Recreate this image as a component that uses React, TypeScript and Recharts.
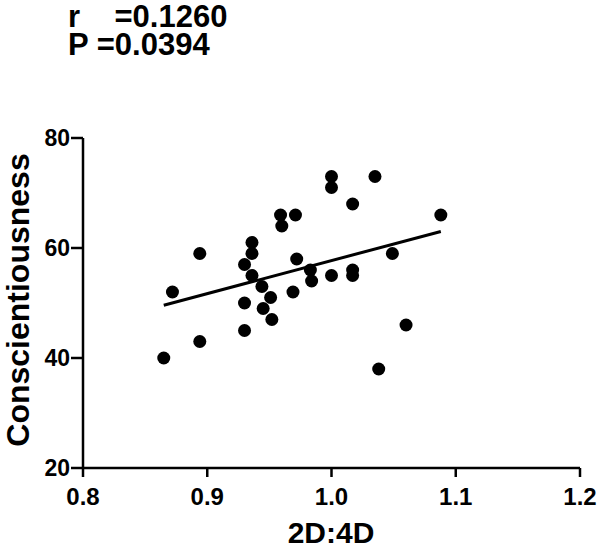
import React from 'react';
import { ScatterChart, Scatter, XAxis, YAxis, ReferenceLine, Label } from 'recharts';

const ratio2D4D = [
  0.865, 0.872, 0.894, 0.894, 0.930, 0.930, 0.930, 0.936, 0.936, 0.936,
  0.944, 0.945, 0.951, 0.952, 0.959, 0.960, 0.969, 0.971, 0.972, 0.983,
  0.984, 1.000, 1.000, 1.000, 1.017, 1.017, 1.017, 1.035, 1.049, 1.060,
  1.038, 1.088,
];
const conscientiousness = [
  40, 52, 59, 43, 57, 50, 45, 61, 59, 55,
  53, 49, 51, 47, 66, 64, 52, 66, 58, 56,
  54, 73, 71, 55, 68, 56, 55, 73, 59, 46,
  38, 66,
];
const fitStart = { x: 0.865, y: 49.6 };
const fitEnd = { x: 1.088, y: 63.0 };
const xTicks = [0.8, 0.9, 1.0, 1.1, 1.2];
const yTicks = [20, 40, 60, 80];
const statLines = ['r    =0.1260', 'P =0.0394'];
const xTitle = '2D:4D';
const yTitle = 'Conscientiousness';

const points = ratio2D4D.map((x, i) => ({ x, y: conscientiousness[i] }));

const FONT = '"Liberation Sans", Arial, sans-serif';

const Dot = (props: any) => <circle cx={props.cx} cy={props.cy} r={6.5} fill="#000" />;

export default function App() {
  return (
    <div style={{ position: 'absolute', left: 0, top: 0, width: 601, height: 549, background: '#fff' }}>
      <ScatterChart width={601} height={549} margin={{ top: 138, right: 21, left: 0, bottom: 0 }}>
        <XAxis
          type="number"
          dataKey="x"
          domain={[0.8, 1.2]}
          ticks={xTicks}
          tickFormatter={(v: number) => v.toFixed(1)}
          height={81}
          axisLine={{ stroke: '#000', strokeWidth: 2.5 }}
          tickLine={{ stroke: '#000', strokeWidth: 2.5 }}
          tickSize={9}
          tickMargin={11}
          tick={{ fill: '#000', fontSize: 24, fontWeight: 'bold', fontFamily: FONT }}
          allowDataOverflow
        >
          <Label
            content={() => (
              <text x={331} y={543} textAnchor="middle" fontSize={30} fontWeight="bold" fontFamily={FONT} fill="#000">
                {xTitle}
              </text>
            )}
          />
        </XAxis>
        <YAxis
          type="number"
          dataKey="y"
          domain={[20, 80]}
          ticks={yTicks}
          width={83}
          axisLine={{ stroke: '#000', strokeWidth: 2.5 }}
          tickLine={{ stroke: '#000', strokeWidth: 2.5 }}
          tickSize={12}
          tickMargin={1}
          tick={{ fill: '#000', fontSize: 23, fontWeight: 'bold', fontFamily: FONT }}
          allowDataOverflow
        >
          <Label
            content={() => (
              <text
                x={0}
                y={0}
                transform="translate(29,300) rotate(-90)"
                textAnchor="middle"
                fontSize={32}
                fontWeight="bold"
                fontFamily={FONT}
                fill="#000"
              >
                {yTitle}
              </text>
            )}
          />
        </YAxis>
        <ReferenceLine
          segment={[fitStart, fitEnd]}
          stroke="#000"
          strokeWidth={3}
        />
        <Scatter data={points} shape={Dot} isAnimationActive={false} />
      </ScatterChart>
      <svg width={601} height={70} style={{ position: 'absolute', left: 0, top: 0 }}>
        <text fontSize={31} fontWeight="bold" fontFamily={FONT} fill="#000" xmlSpace="preserve">
          <tspan x={68} y={27}>{statLines[0]}</tspan>
          <tspan x={68} y={55}>{statLines[1]}</tspan>
        </text>
      </svg>
    </div>
  );
}
